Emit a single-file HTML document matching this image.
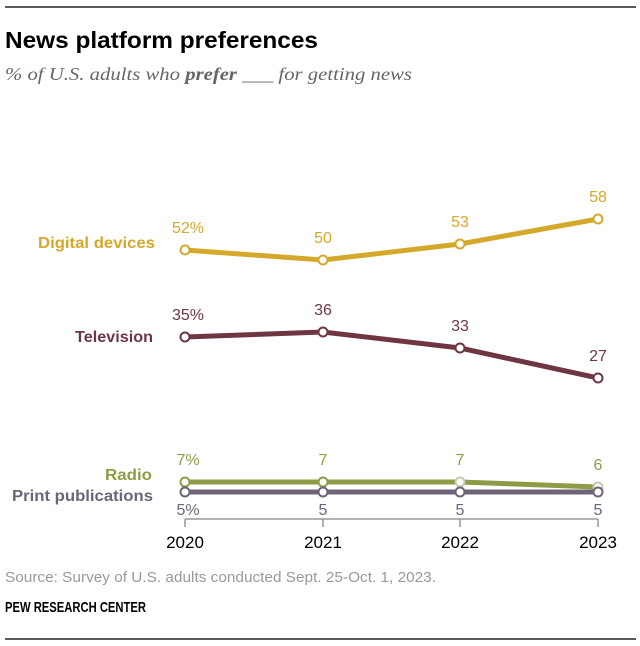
<!DOCTYPE html>
<html><head><style>
body{margin:0;background:#fff;width:640px;height:646px;overflow:hidden}
svg{display:block}
</style></head><body>
<svg width="640" height="646" xmlns="http://www.w3.org/2000/svg" font-family="Liberation Sans, Arial, sans-serif">
<line x1="5" y1="7" x2="636" y2="7" stroke="#222" stroke-width="1.5"/>
<text x="5" y="48" font-size="23" font-weight="bold" fill="#000" textLength="313" lengthAdjust="spacingAndGlyphs">News platform preferences</text>
<text x="5" y="80" font-size="18" font-style="italic" fill="#666" font-family="Liberation Serif, serif" textLength="407" lengthAdjust="spacingAndGlyphs">% of U.S. adults who <tspan font-weight="bold">prefer</tspan> ___ for getting news</text>

<line x1="185" y1="519" x2="598" y2="519" stroke="#999" stroke-width="1.5"/>
<g stroke="#999" stroke-width="1.5"><line x1="185" y1="519" x2="185" y2="527"/><line x1="323" y1="519" x2="323" y2="527"/><line x1="460" y1="519" x2="460" y2="527"/><line x1="598" y1="519" x2="598" y2="527"/></g>
<g font-size="17" fill="#000" text-anchor="middle"><text x="185" y="548">2020</text><text x="323" y="548">2021</text><text x="460" y="548">2022</text><text x="598" y="548">2023</text></g>

<polyline points="185,250 323,260 460,244 598,219" fill="none" stroke="#d4a82a" stroke-width="5"/>
<polyline points="185,337 323,332 460,348 598,378" fill="none" stroke="#6e3642" stroke-width="5"/>
<polyline points="185,482 323,482 460,482 598,487" fill="none" stroke="#8f9c45" stroke-width="5"/>
<polyline points="185,492 323,492 460,492 598,492" fill="none" stroke="#6e6478" stroke-width="5"/>
<g fill="#fff" stroke-width="2">
<circle cx="185" cy="250" r="4.5" stroke="#d4a82a"/><circle cx="323" cy="260" r="4.5" stroke="#d4a82a"/><circle cx="460" cy="244" r="4.5" stroke="#d4a82a"/><circle cx="598" cy="219" r="4.5" stroke="#d4a82a"/>
<circle cx="185" cy="337" r="4.5" stroke="#6e3642"/><circle cx="323" cy="332" r="4.5" stroke="#6e3642"/><circle cx="460" cy="348" r="4.5" stroke="#6e3642"/><circle cx="598" cy="378" r="4.5" stroke="#6e3642"/>
<circle cx="185" cy="482" r="4.5" stroke="#8f9c45"/><circle cx="323" cy="482" r="4.5" stroke="#8f9c45"/><circle cx="460" cy="482" r="4.5" stroke="#c8c6b0"/><circle cx="598" cy="487" r="4.5" stroke="#c8c6b0"/>
<circle cx="185" cy="492" r="4.5" stroke="#6e6478"/><circle cx="323" cy="492" r="4.5" stroke="#6e6478"/><circle cx="460" cy="492" r="4.5" stroke="#6e6478"/><circle cx="598" cy="492" r="4.5" stroke="#6e6478"/>
</g>
<g font-size="16" text-anchor="middle">
<g fill="#d4a82a"><text x="188" y="233">52%</text><text x="323" y="243">50</text><text x="460" y="227">53</text><text x="598" y="202">58</text></g>
<g fill="#6e3642"><text x="188" y="320">35%</text><text x="323" y="315">36</text><text x="460" y="331">33</text><text x="598" y="361">27</text></g>
<g fill="#8f9c45"><text x="188" y="465">7%</text><text x="323" y="465">7</text><text x="460" y="465">7</text><text x="598" y="470">6</text></g>
<g fill="#6e6478"><text x="188" y="515">5%</text><text x="323" y="515">5</text><text x="460" y="515">5</text><text x="598" y="515">5</text></g>
</g>
<g font-size="16" font-weight="bold">
<text x="38" y="248" fill="#d4a82a" textLength="117" lengthAdjust="spacingAndGlyphs">Digital devices</text>
<text x="75" y="342" fill="#6e3642" textLength="78" lengthAdjust="spacingAndGlyphs">Television</text>
<text x="105" y="480" fill="#8f9c45" textLength="47" lengthAdjust="spacingAndGlyphs">Radio</text>
<text x="12" y="501" fill="#6e6478" textLength="141" lengthAdjust="spacingAndGlyphs">Print publications</text>
</g>
<text x="5" y="582" font-size="15" fill="#999" textLength="431" lengthAdjust="spacingAndGlyphs">Source: Survey of U.S. adults conducted Sept. 25-Oct. 1, 2023.</text>
<text x="5" y="612" font-size="15" font-weight="bold" fill="#000" textLength="141" lengthAdjust="spacingAndGlyphs">PEW RESEARCH CENTER</text>
<line x1="5" y1="639" x2="636" y2="639" stroke="#222" stroke-width="1.5"/>
</svg>
</body></html>
